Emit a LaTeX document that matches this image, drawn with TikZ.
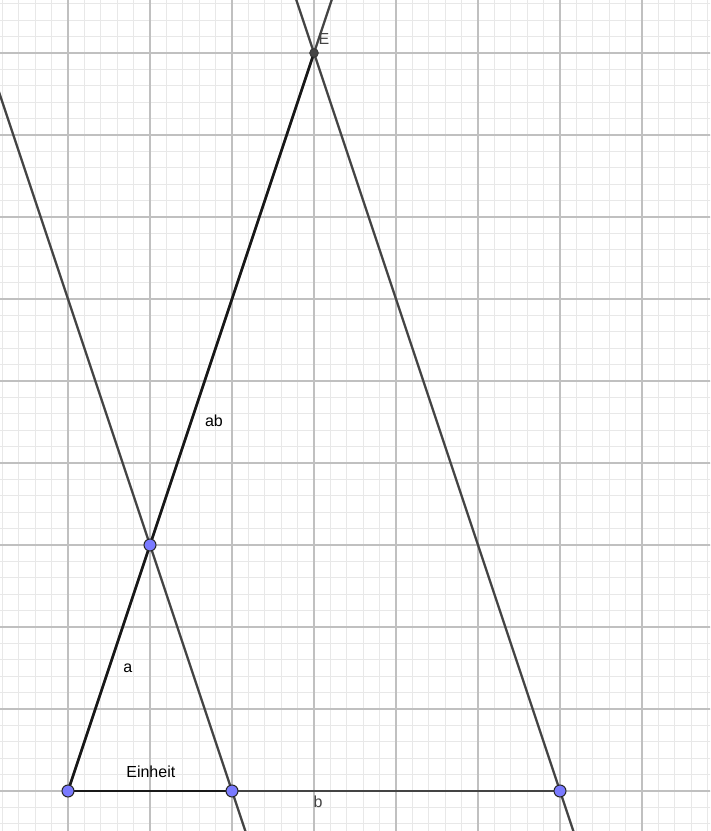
\documentclass[tikz,border=0pt]{standalone}
\usepackage{fontspec}
\setmainfont{Liberation Sans}
\usetikzlibrary{calc}
\definecolor{minorgrid}{HTML}{E8E8E8}
\definecolor{majorgrid}{HTML}{C0C0C0}
\definecolor{lgray}{HTML}{444444}
\definecolor{ptblue}{HTML}{7A7AFF}
\tikzset{
  minorline/.style={draw=minorgrid, line width=0.75pt},
  majorline/.style={draw=majorgrid, line width=0.8pt},
  grayline/.style={draw=lgray, line width=1.7pt},
  blackseg/.style={draw=black!90, line width=2.0pt},
  bluept/.style={circle, fill=ptblue, draw=black!85, line width=0.75pt, minimum size=9pt, inner sep=0pt},
  darkpt/.style={circle, fill=lgray, draw=black!80, line width=0.6pt, minimum size=6.5pt, inner sep=0pt},
  lbl/.style={font=\fontsize{12pt}{14pt}\selectfont, inner sep=0pt}
}
\begin{document}
\begin{tikzpicture}[x=61.5pt,y=61.5pt]
\useasboundingbox (-0.8293,-0.4878) rectangle (7.8293,9.6463);
\fill[white] (-0.8293,-0.4878) rectangle (7.8293,9.6463);
\begin{scope}
\clip (-0.8293,-0.4878) rectangle (7.8293,9.6463);
\draw[minorline] (-1,-1) grid[step=0.2] (8,10);
\draw[majorline] (-1,-1) grid[step=1] (8,10);
\coordinate (A) at (0,0);
\coordinate (B) at (2,0);
\coordinate (C) at (1,3);
\coordinate (D) at (6,0);
\coordinate (E) at (3,9);
\coordinate (AEfar) at ($(A)!1.5!(E)$);
\coordinate (DEtop) at ($(E)!-0.5!(D)$);
\coordinate (DEbot) at ($(E)!1.5!(D)$);
\coordinate (BCtop) at ($(B)!4!(C)$);
\coordinate (BCbot) at ($(B)!-1!(C)$);
\draw[grayline] (A) -- (AEfar);
\draw[grayline] (DEtop) -- (DEbot);
\draw[grayline] (BCtop) -- (BCbot);
\draw[grayline] (B) -- (D);
\draw[blackseg] (A) -- (B);
\draw[blackseg] (A) -- (C);
\draw[blackseg] (C) -- (E);
\end{scope}
\node[bluept] (pA) at (A) {};
\node[bluept] (pB) at (B) {};
\node[bluept] (pC) at (C) {};
\node[bluept] (pD) at (D) {};
\node[darkpt] (pE) at (E) {};
\node[lbl, text=lgray] (lE) at (3.12,9.17) {E};
\node[lbl] (lab) at (1.78,4.51) {ab};
\node[lbl] (la) at (0.73,1.50) {a};
\node[lbl] (lein) at (1.01,0.23) {Einheit};
\node[lbl, text=lgray] (lb) at (3.05,-0.13) {b};
\end{tikzpicture}
\end{document}
